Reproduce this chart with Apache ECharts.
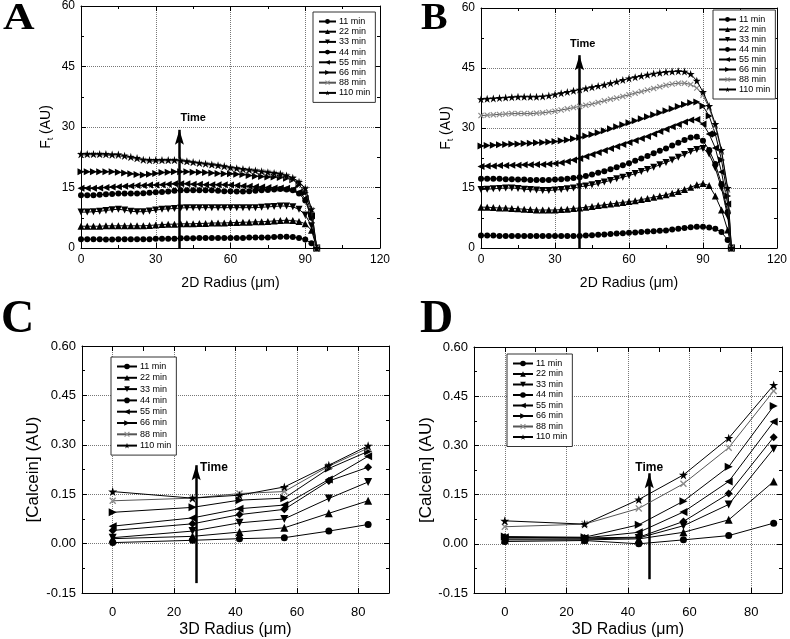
<!DOCTYPE html>
<html><head><meta charset="utf-8">
<script src="https://cdn.jsdelivr.net/npm/echarts@6/dist/echarts.min.js"></script>
<style>html,body{margin:0;padding:0;background:#fff}#c{width:790px;height:639px}</style>
</head><body><div id="c"></div>
<script>
// ---------- DATA ----------
const seriesNames = ['11 min','22 min','33 min','44 min','55 min','66 min','88 min','110 min'];

// Panel A: 2D radius (µm) vs Ft (AU)
const radiusA = [0,2.5,5,7.5,10,12.5,15,17.5,20,22.5,25,27.5,30,32.5,35,37.5,40,42.5,45,47.5,50,52.5,55,57.5,60,62.5,65,67.5,70,72.5,75,77.5,80,82.5,85,87.5,90,92.5,94.6];
const a11  = [2.2,2.2,2.2,2.2,2.1,2.1,2.2,2.2,2.2,2.2,2.2,2.2,2.3,2.3,2.3,2.3,2.4,2.4,2.4,2.5,2.5,2.5,2.5,2.5,2.5,2.5,2.5,2.6,2.6,2.6,2.6,2.7,2.8,2.8,2.7,2.5,2.1,1.2,0];
const a22  = [5.4,5.4,5.4,5.4,5.5,5.5,5.5,5.5,5.5,5.5,5.5,5.6,5.7,5.8,5.9,5.9,6.0,6.0,6.0,6.1,6.1,6.2,6.2,6.2,6.3,6.3,6.4,6.4,6.5,6.5,6.6,6.7,6.8,6.9,6.8,6.6,6.0,4.4,0];
const a33  = [8.9,8.9,9.0,9.1,9.3,9.5,9.6,9.4,9.1,9.0,9.0,9.2,9.4,9.6,9.7,9.8,9.9,10.0,10.0,10.0,10.0,10.0,10.0,10.0,10.0,10.0,10.0,10.0,10.0,10.1,10.2,10.3,10.4,10.4,10.2,9.6,8.2,5.5,0];
const a44  = [13.1,13.1,13.1,13.2,13.3,13.4,13.5,13.5,13.5,13.5,13.6,13.7,13.8,13.9,14.0,14.2,14.3,14.3,14.3,14.3,14.3,14.3,14.2,14.1,14.1,14.0,14.0,14.1,14.2,14.3,14.4,14.5,14.6,14.5,14.3,13.5,11.8,7.5,0];
const a55  = [14.8,14.8,14.8,14.9,15.0,15.1,15.2,15.3,15.4,15.5,15.5,15.6,15.6,15.7,15.8,15.9,15.9,15.9,15.8,15.8,15.7,15.7,15.7,15.7,15.6,15.5,15.4,15.3,15.2,15.1,15.0,14.9,14.9,14.8,14.5,13.8,12.3,8.0,0];
const a66  = [18.9,18.9,18.9,18.9,18.9,18.9,18.8,18.6,18.4,18.2,18.1,18.3,18.5,18.7,18.8,18.9,18.9,18.9,18.8,18.8,18.7,18.6,18.5,18.4,18.4,18.3,18.2,18.0,17.8,17.7,17.6,17.6,17.5,17.3,16.9,15.7,13.7,8.5,0];
const a88  = [23.0,23.1,23.1,23.1,23.0,22.9,22.8,22.6,22.3,22.0,21.7,21.5,21.5,21.6,21.6,21.6,21.5,21.3,21.1,20.9,20.7,20.5,20.3,20.0,19.7,19.5,19.3,19.1,19.0,18.9,18.7,18.5,18.2,17.8,17.2,16.3,14.7,9.5,0];
const a110 = [23.3,23.3,23.3,23.3,23.3,23.2,23.2,22.9,22.6,22.3,21.9,21.8,21.8,21.8,21.8,21.8,21.7,21.5,21.3,21.1,20.9,20.7,20.5,20.3,20.0,19.8,19.6,19.4,19.2,19.0,18.8,18.6,18.4,18.0,17.4,16.4,14.8,9.6,0];

// Panel B
const radiusB = [0,2.5,5,7.5,10,12.5,15,17.5,20,22.5,25,27.5,30,32.5,35,37.5,40,42.5,45,47.5,50,52.5,55,57.5,60,62.5,65,67.5,70,72.5,75,77.5,80,82.5,85,87.5,90,92.5,95,97.5,100,101.5];
const b11  = [3.1,3.1,3.1,3.0,3.0,3.0,3.0,3.0,3.0,3.0,3.0,3.0,3.0,3.0,3.0,3.0,3.0,3.1,3.2,3.3,3.4,3.5,3.6,3.7,3.8,3.9,4.0,4.1,4.2,4.3,4.4,4.6,4.8,5.0,5.2,5.3,5.3,5.1,4.8,4.0,2.0,0];
const b22  = [10.2,10.2,10.1,10.0,10.0,9.9,9.8,9.7,9.6,9.5,9.5,9.5,9.5,9.6,9.7,9.9,10.0,10.2,10.4,10.6,10.8,11.0,11.2,11.4,11.6,11.8,12.1,12.4,12.7,13.0,13.3,13.7,14.1,14.6,15.2,15.8,16.1,15.6,13.0,9.5,4.5,0];
const b33  = [14.6,14.7,14.8,14.9,15.0,15.0,14.9,14.7,14.6,14.5,14.4,14.4,14.5,14.6,14.8,15.0,15.3,15.5,15.8,16.1,16.5,16.9,17.3,17.7,18.1,18.6,19.1,19.6,20.2,20.8,21.4,22.0,22.7,23.4,24.1,24.6,24.9,23.5,20.0,15.0,8.0,0];
const b44  = [17.3,17.3,17.3,17.3,17.2,17.2,17.1,17.1,17.0,17.0,17.0,17.0,17.1,17.2,17.3,17.5,17.7,18.0,18.4,18.8,19.2,19.7,20.2,20.7,21.2,21.8,22.4,23.0,23.7,24.3,24.9,25.6,26.3,27.0,27.6,27.8,26.8,24.5,21.0,16.0,9.0,0];
const b55  = [20.4,20.5,20.5,20.6,20.6,20.7,20.7,20.8,20.8,20.9,20.9,21.0,21.1,21.3,21.6,22.0,22.4,22.9,23.4,23.9,24.4,24.9,25.4,25.9,26.4,26.9,27.4,27.9,28.5,29.1,29.7,30.3,30.9,31.5,32.0,32.1,31.0,28.5,25.0,19.0,11.0,0];
const b66  = [25.5,25.6,25.7,25.8,25.9,26.0,26.0,26.1,26.2,26.3,26.4,26.5,26.6,26.8,27.0,27.3,27.6,28.0,28.4,28.8,29.3,29.8,30.3,30.8,31.3,31.8,32.3,32.8,33.3,33.8,34.3,34.8,35.4,35.9,36.3,36.5,35.5,33.0,28.5,22.0,13.0,0];
const b88  = [33.1,33.2,33.3,33.4,33.5,33.6,33.6,33.6,33.6,33.7,33.8,34.0,34.2,34.5,34.8,35.1,35.4,35.7,36.0,36.4,36.8,37.2,37.5,37.9,38.3,38.7,39.1,39.5,39.9,40.3,40.7,41.0,41.2,41.2,40.9,40.0,38.2,35.0,30.5,24.0,14.5,0];
const b110 = [37.2,37.3,37.4,37.5,37.6,37.7,37.8,37.8,37.8,37.8,37.9,38.1,38.4,38.7,39.0,39.3,39.6,39.9,40.2,40.5,40.8,41.2,41.6,42.0,42.4,42.7,43.0,43.3,43.6,43.8,44.0,44.1,44.2,44.1,43.5,41.8,39.0,35.5,31.0,24.5,15.0,0];

// Panel C: 3D radius vs [Calcein]
const radiusC = [0,26,41.3,55.9,70.4,83.2];
const c11  = [0.003,0.010,0.015,0.018,0.038,0.058];
const c22  = [0.015,0.022,0.035,0.048,0.092,0.130];
const c33  = [0.018,0.038,0.063,0.075,0.137,0.187];
const c44  = [0.040,0.060,0.088,0.104,0.190,0.232];
const c55  = [0.053,0.078,0.106,0.117,0.195,0.265];
const c66  = [0.095,0.110,0.132,0.138,0.228,0.280];
const c88  = [0.130,0.138,0.152,0.158,0.235,0.290];
const c110 = [0.158,0.138,0.147,0.172,0.238,0.297];

// Panel D
const radiusD = [0,25.9,43.5,58,72.7,87.3];
const d11  = [0.007,0.010,0.000,0.012,0.025,0.063];
const d22  = [0.012,0.012,0.015,0.035,0.073,0.190];
const d33  = [0.015,0.015,0.018,0.055,0.120,0.290];
const d44  = [0.020,0.018,0.020,0.068,0.153,0.325];
const d55  = [0.020,0.018,0.035,0.097,0.190,0.372];
const d66  = [0.022,0.020,0.058,0.130,0.235,0.420];
const d88  = [0.052,0.060,0.108,0.183,0.293,0.466];
const d110 = [0.070,0.060,0.135,0.210,0.322,0.484];

// Tick values
const ticks2D = [0,30,60,90,120];
const ticksFt = [0,15,30,45,60];
const ticks3D = [0,20,40,60,80];
const ticks3DTop = [0,10,20,30,40,50,60,70,80];
const ticksCal = [-0.15,0,0.15,0.30,0.45,0.60];

// "Time" arrows (data coordinates: base, tip, label)
const arrowA = {x:39.5, y0:0, tip:29.3, tx:45, ty:32.3};
const arrowB = {x:39.9, y0:0, tip:48.2, tx:41.2, ty:50.9};
const arrowC = {x:27.2, y0:-0.12, tip:0.238, tx:33, ty:0.229};
const arrowD = {x:46.9, y0:-0.108, tip:0.215, tx:46.9, ty:0.232};

// ---------- CHART ----------
const FONT = '"Liberation Sans", Arial, sans-serif';
const STAR = 'path://M50,0L61.8,36.2L100,36.2L69.1,58.8L80.9,95.1L50,72.7L19.1,95.1L30.9,58.8L0,36.2L38.2,36.2Z';
const CROSS = 'path://M0,14L14,0L50,36L86,0L100,14L64,50L100,86L86,100L50,64L14,100L0,86L36,50Z';
const HEAD = 'path://M50,0L100,100L50,80L0,100Z';
const symAB = [['circle',0],['triangle',0],['triangle',180],['circle',0],['triangle',90],['triangle',-90],[CROSS,0],[STAR,0]];
const symCD = [['circle',0],['triangle',0],['triangle',180],['diamond',0],['triangle',90],['triangle',-90],[CROSS,0],[STAR,0]];

const panels = [
  {grid:{left:81, top:6, width:299, height:242}, xs:Array(8).fill(radiusA), ys:[a11,a22,a33,a44,a55,a66,a88,a110], sym:symAB, size:6,
   x:{min:0,max:120,interval:30,name:'2D Radius (\u03bcm)'}, y:{min:0,max:60,interval:15,name:'F{s|t} (AU)'}, small:true, arrow:arrowA,
   legend:{left:313, top:12, gap:1.2}},
  {grid:{left:481, top:8, width:298, height:240}, xs:Array(8).fill(radiusB), ys:[b11,b22,b33,b44,b55,b66,b88,b110], sym:symAB, size:6,
   x:{min:0,max:120,interval:30,name:'2D Radius (\u03bcm)'}, y:{min:0,max:60,interval:15,name:'F{s|t} (AU)'}, small:true, arrow:arrowB,
   legend:{left:713, top:10, gap:1.0}},
  {grid:{left:82, top:346, width:307, height:250}, xs:Array(8).fill(radiusC), ys:[c11,c22,c33,c44,c55,c66,c88,c110], sym:symCD, size:7,
   x:{min:-10,max:90,custom:ticks3D,customTop:ticks3DTop,name:'3D Radius (\u03bcm)'}, y:{min:-0.15,max:0.6,interval:0.15,name:'[Calcein] (AU)'}, small:false, arrow:arrowC,
   legend:{left:111, top:357, gap:2.3}},
  {grid:{left:474, top:347, width:308, height:249}, xs:Array(8).fill(radiusD), ys:[d11,d22,d33,d44,d55,d66,d88,d110], sym:symCD, size:7,
   x:{min:-10,max:90,custom:ticks3D,customTop:ticks3DTop,name:'3D Radius (\u03bcm)'}, y:{min:-0.15,max:0.6,interval:0.15,name:'[Calcein] (AU)'}, small:false, arrow:arrowD,
   legend:{left:507, top:354, gap:1.5}}
];

const grids = [], xAxes = [], yAxes = [], series = [], legends = [];
panels.forEach((p, gi) => {
  grids.push(Object.assign({containLabel:false}, p.grid));
  const tickFs = p.small ? 12 : 13;
  const nameFs = p.small ? 14 : 16;
  const axLine = {show:true, onZero:false, lineStyle:{color:'#000', width:1}};
  const baseX = {type:'value', gridIndex:gi, min:p.x.min, max:p.x.max, axisLine:axLine};
  if (p.x.interval) baseX.interval = p.x.interval;
  const tickX = {show:true, inside:true, length:5, lineStyle:{color:'#000'}};
  if (p.x.custom) tickX.customValues = p.x.custom;
  const tickXTop = {show:true, inside:true, length:5, lineStyle:{color:'#000'}};
  if (p.x.customTop) tickXTop.customValues = p.x.customTop;
  const labX = {show:true, color:'#000', fontSize:tickFs, fontFamily:FONT, margin:p.small?6:13};
  if (p.x.custom) labX.customValues = p.x.custom;
  xAxes.push(Object.assign({}, baseX, {position:'bottom', axisTick:tickX, axisLabel:labX,
    minorTick:{show:!p.x.custom, splitNumber:2, length:3, lineStyle:{color:'#000'}},
    splitLine:{show:true, lineStyle:{type:'dotted', color:'#777', width:1}},
    name:p.x.name, nameLocation:'middle', nameGap:p.small?28:29,
    nameTextStyle:{color:'#000', fontSize:nameFs, fontFamily:FONT}}));
  xAxes.push(Object.assign({}, baseX, {position:'top', axisTick:tickXTop, axisLabel:{show:false},
    minorTick:{show:!p.x.custom, splitNumber:2, length:3, lineStyle:{color:'#000'}}, splitLine:{show:false}}));
  const baseY = {type:'value', gridIndex:gi, min:p.y.min, max:p.y.max, interval:p.y.interval, axisLine:axLine,
    axisTick:{show:true, inside:true, length:5, lineStyle:{color:'#000'}},
    minorTick:{show:true, splitNumber:2, length:3, lineStyle:{color:'#000'}}};
  yAxes.push(Object.assign({}, baseY, {position:'left',
    axisLabel:{show:true, color:'#000', fontSize:tickFs, fontFamily:FONT, margin:6,
      formatter: v => p.small ? String(Math.round(v)) : (Math.round(v*100)/100).toFixed(2)},
    splitLine:{show:true, lineStyle:{type:'dotted', color:'#777', width:1}},
    name:p.y.name, nameLocation:'middle', nameGap:p.small?26:(gi===2?40:37),
    nameTextStyle:{color:'#000', fontSize:p.small?14:17, fontFamily:FONT,
      rich:{s:{fontSize:9, fontFamily:FONT, color:'#000', padding:[9,0,0,0]}}}}));
  yAxes.push(Object.assign({}, baseY, {position:'right', axisLabel:{show:false}, splitLine:{show:false}}));
  const xi = gi*2, yi = gi*2;
  seriesNames.forEach((nm, k) => {
    const gray = k === 6;
    const [sym, rot] = p.sym[k];
    let sz = p.size;
    if (sym === 'triangle') sz = p.size + 1;
    if (sym === STAR) sz = p.size + 2;
    if (sym === 'diamond') sz = p.size + 1;
    series.push({type:'line', name:nm, xAxisIndex:xi, yAxisIndex:yi,
      data:p.xs[k].map((x,i)=>[x, p.ys[k][i]]),
      symbol:sym, symbolRotate:rot, symbolSize:sz, showSymbol:true,
      lineStyle:{color:gray?'#555':'#000', width:1},
      itemStyle:{color:gray?'#8c8c8c':'#000'},
      emphasis:{disabled:true}, animation:false, z:2+k});
  });
  const a = p.arrow;
  const headH = 15;
  series.push({type:'line', name:'_arrow'+gi, xAxisIndex:xi, yAxisIndex:yi, data:[[a.x,a.y0]], showSymbol:false, symbol:'none',
    lineStyle:{opacity:0}, animation:false, z:20,
    markLine:{silent:true, animation:false, symbol:['none','none'],
      lineStyle:{color:'#000', width:2.5, type:'solid'}, label:{show:false}, emphasis:{disabled:true},
      data:[[{coord:[a.x,a.y0]},{coord:[a.x,a.tip]}]]},
    markPoint:{silent:true, animation:false,
      data:[
        {coord:[a.x,a.tip], symbol:HEAD, symbolSize:[9,headH], symbolOffset:[0,'50%'], itemStyle:{color:'#000'}, label:{show:false}},
        {coord:[a.tx,a.ty], symbol:'rect', symbolSize:1, itemStyle:{color:'rgba(0,0,0,0)'},
         label:{show:true, position:'inside', formatter:'Time', color:'#000', fontWeight:'bold', fontSize:p.small?11:12, fontFamily:FONT}}
      ]}});
  legends.push({orient:'vertical', left:p.legend.left, top:p.legend.top, padding:[5,5,5,5],
    backgroundColor:'#fff', borderColor:'#333', borderWidth:1, borderRadius:0,
    itemWidth:p.small?17:20, itemHeight:p.small?6:7, itemGap:p.legend.gap, selectedMode:false,
    textStyle:{fontSize:9, lineHeight:9, color:'#000', fontFamily:FONT, padding:[0,0,0,-2]},
    data:seriesNames.slice()});
});

const letters = [['A',3,0,38,1.15],['B',421,0,38,1.05],['C',1,297,46,1],['D',420,297,46,1]];
const graphic = letters.map(([t,l,tp,fs,sx]) => ({type:'text', left:l, top:tp, z:100, scaleX:sx,
  style:{text:t, font:'bold '+fs+'px "Liberation Serif", "Times New Roman", serif', fill:'#000'}}));

const chart = echarts.init(document.getElementById('c'), null, {renderer:'canvas'});
chart.setOption({backgroundColor:'#fff', animation:false, grid:grids, xAxis:xAxes, yAxis:yAxes, series:series, legend:legends, graphic:graphic});
</script></body></html>
